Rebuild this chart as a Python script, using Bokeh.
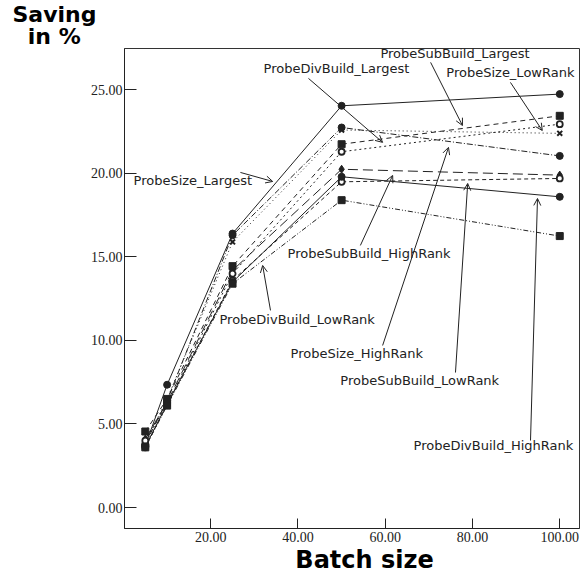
from bokeh.plotting import figure
from bokeh.models import Range1d, Label, Arrow, OpenHead, FixedTicker, PrintfTickFormatter, Title
from bokeh.embed import file_html
from bokeh.resources import INLINE

# Batch sizes on the x axis
batch_size = [5, 10, 25, 50, 100]

# Saving in % for each probing strategy
probe_size_largest = [3.7, 7.35, 16.4, 24.05, 24.75]
probe_size_lowrank = [3.9, 6.5, 15.9, 22.6, 22.4]
probe_size_highrank = [3.8, 6.4, 16.3, 22.75, 21.05]
probe_subbuild_largest = [4.55, 6.5, 14.45, 21.75, 23.45]
probe_subbuild_highrank = [4.1, 6.3, 14.2, 20.25, 19.9]
probe_subbuild_lowrank = [3.6, 6.15, 13.6, 19.5, 19.7]
probe_divbuild_largest = [4.0, 6.2, 14.0, 21.3, 22.95]
probe_divbuild_highrank = [3.65, 6.2, 13.5, 19.8, 18.6]
probe_divbuild_lowrank = [3.6, 6.1, 13.4, 18.4, 16.25]

x_ticks = [20, 40, 60, 80, 100]
y_ticks = [0, 5, 10, 15, 20, 25]

INK = "#222222"
SANS = "DejaVu Sans"
SERIF = "Liberation Serif"
NBSP = "\u00a0"

p = figure(width=582, height=577, output_backend="svg", toolbar_location=None,
           x_range=Range1d(0.23, 104.53), y_range=Range1d(-1.257, 27.48),
           min_border_left=124, min_border_right=3, min_border_top=48, min_border_bottom=49)
p.grid.visible = False
p.outline_line_color = "#333333"
p.outline_line_width = 1
p.background_fill_color = "white"
p.border_fill_color = "white"

for ax, ticks in ((p.xaxis, x_ticks), (p.yaxis, y_ticks)):
    ax.ticker = FixedTicker(ticks=ticks)
    ax.formatter = PrintfTickFormatter(format="%.2f")
    ax.axis_line_color = INK
    ax.major_tick_line_color = INK
    ax.major_tick_out = 0
    ax.minor_tick_line_color = None
    ax.major_label_text_font = SERIF
    ax.major_label_text_font_size = "14px"
    ax.major_label_text_color = INK
p.xaxis.major_tick_in = 10
p.yaxis.major_tick_in = 12
p.xaxis.major_label_standoff = 3
p.yaxis.major_label_standoff = 2

# x axis title
p.xaxis.axis_label = NBSP * 3 + "Batch size"
p.xaxis.axis_label_text_font = SANS
p.xaxis.axis_label_text_font_size = "24px"
p.xaxis.axis_label_text_font_style = "bold"
p.xaxis.axis_label_text_color = "black"
p.xaxis.axis_label_standoff = 1

# y axis title, set horizontally above the axis
p.add_layout(Title(text="Saving\n" + NBSP * 2 + "in %", align="left", offset=-112, standoff=0,
                   text_font=SANS, text_font_size="22px", text_font_style="bold",
                   text_color="black", text_line_height=0.85), "above")

# (values, marker, filled, dash)
series = [
    (probe_size_largest, "circle", True, "solid"),
    (probe_size_lowrank, "x", True, "1 3"),
    (probe_size_highrank, "circle", True, "6 2 1 2"),
    (probe_subbuild_largest, "square", True, "5 4"),
    (probe_subbuild_highrank, "diamond", True, "10 5"),
    (probe_subbuild_lowrank, "circle", False, "4 3"),
    (probe_divbuild_largest, "circle", False, "2 3"),
    (probe_divbuild_highrank, "circle", True, "solid"),
    (probe_divbuild_lowrank, "square", True, "5 2 1 2 1 2"),
]

for vals, marker, filled, dash in series:
    p.line(batch_size, vals, line_color=INK, line_width=1, line_dash=dash)
for vals, marker, filled, dash in series:
    if marker == "x":
        p.scatter(batch_size, vals, marker="x", size=7, line_color=INK, line_width=2)
    elif filled:
        size = 8 if marker == "diamond" else 7
        p.scatter(batch_size, vals, marker=marker, size=size, fill_color=INK, line_color=INK)
    else:
        p.scatter(batch_size, vals, marker=marker, size=6, fill_color="white",
                  line_color=INK, line_width=1.8)

# Annotation labels: (text, x, y) with arrow (x0, y0) -> (x1, y1)
notes = [
    ("ProbeSubBuild_Largest", 58.9, 27.19, (70.4, 26.65), (77.7, 22.87)),
    ("ProbeDivBuild_Largest", 32.1, 26.29, (42.4, 25.69), (59.4, 21.86)),
    ("ProbeSize_LowRank", 74.0, 26.05, (88.7, 25.45), (96.0, 22.57)),
    ("ProbeSize_Largest", 2.3, 19.58, (26.8, 20.06), (34.2, 19.52)),
    ("ProbeSubBuild_HighRank", 37.6, 15.21, (54.3, 15.69), (61.7, 19.88)),
    ("ProbeDivBuild_LowRank", 22.0, 11.26, (33.7, 11.8), (31.9, 14.49)),
    ("ProbeSize_HighRank", 38.3, 9.22, (59.4, 9.7), (74.5, 21.56)),
    ("ProbeSubBuild_LowRank", 49.7, 7.6, (76.1, 8.08), (78.9, 19.4)),
    ("ProbeDivBuild_HighRank", 66.5, 3.71, (93.3, 4.01), (94.9, 18.5)),
]
for text, tx, ty, (x0, y0), (x1, y1) in notes:
    p.add_layout(Arrow(x_start=x0, y_start=y0, x_end=x1, y_end=y1,
                       line_color=INK, line_width=1,
                       end=OpenHead(size=7, line_color=INK, line_width=1)))
    p.add_layout(Label(x=tx, y=ty, text=text, text_font=SANS, text_font_size="13px",
                       text_color=INK, text_baseline="middle", text_align="left"))

open("out.html", "w").write(file_html(p, INLINE))
